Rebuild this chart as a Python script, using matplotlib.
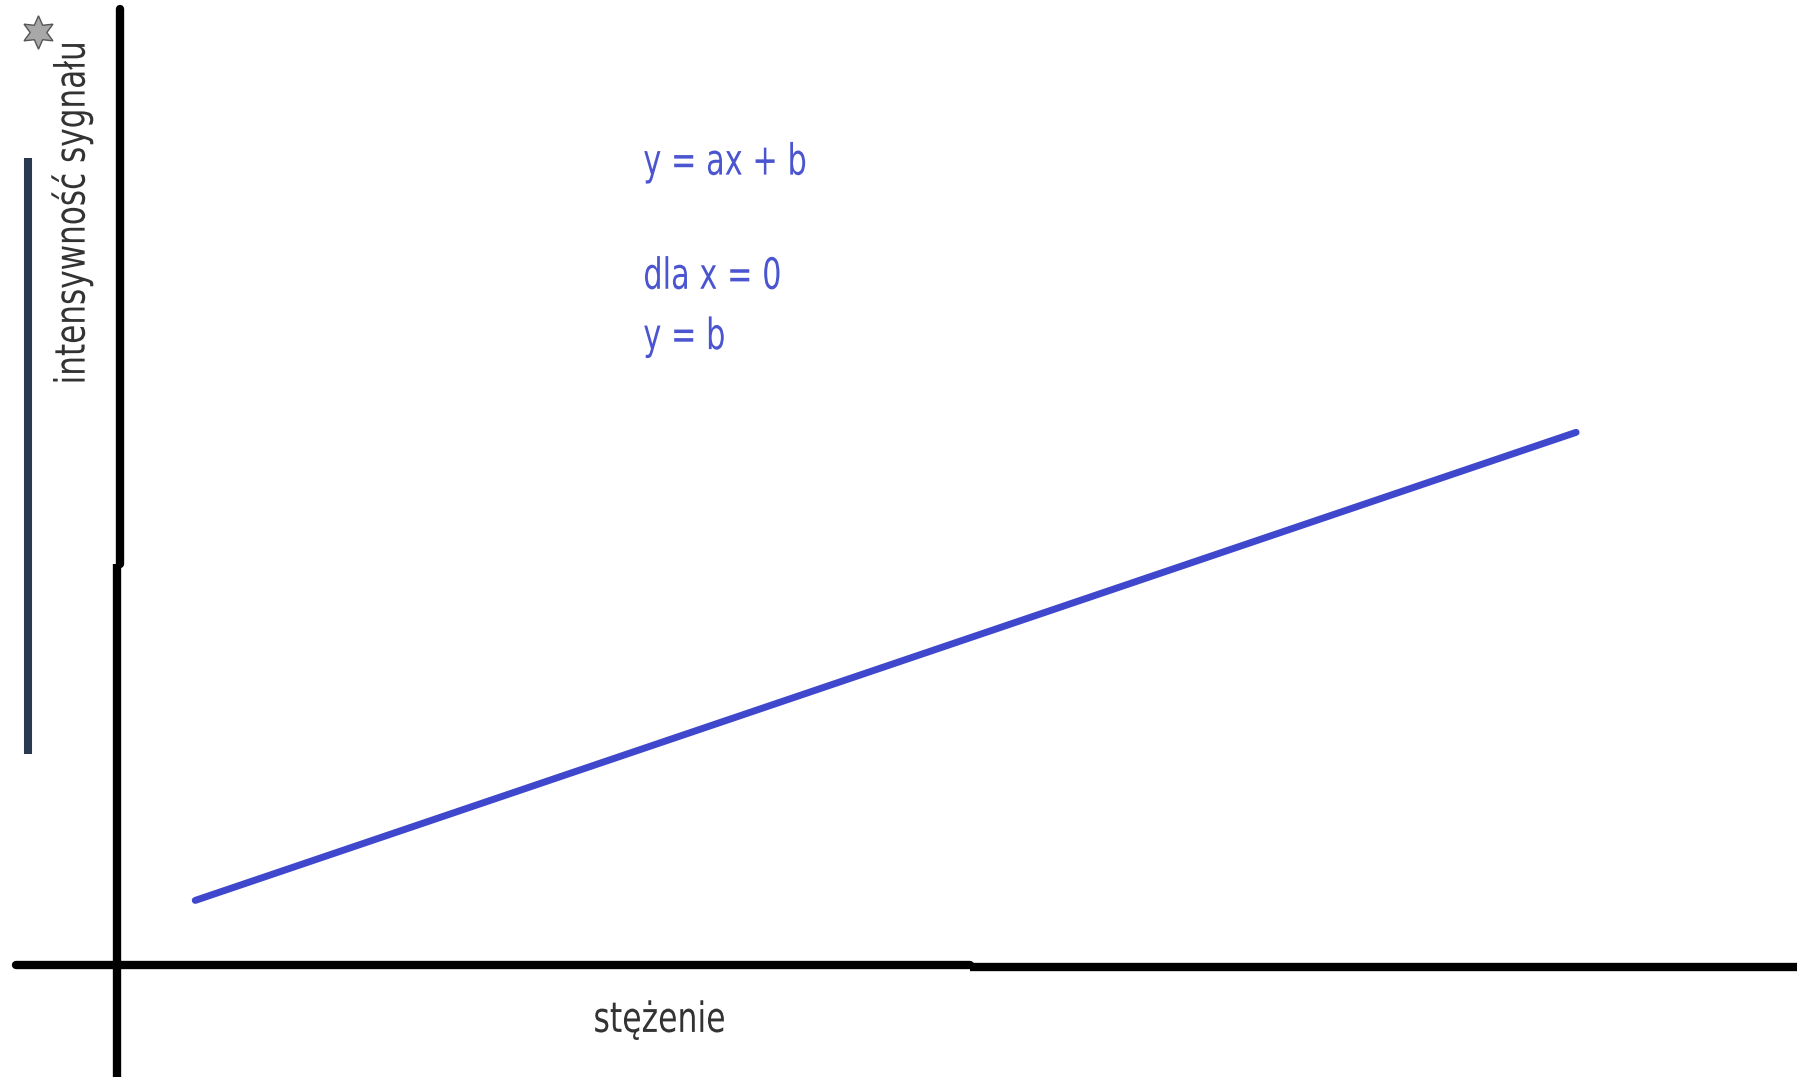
import matplotlib
matplotlib.use("Agg")
import matplotlib.pyplot as plt
from matplotlib import patheffects
from matplotlib.transforms import Affine2D

# dane: prosta kalibracyjna y = ax + b
stezenie = [0.53, 10.0]
sygnal = [0.45, 3.66]

opis_rownania = ["y = ax + b", "dla x = 0", "y = b"]
etykieta_x = "stężenie"
etykieta_y = "intensywność sygnału"

font = dict(family="DejaVu Sans", fontstretch="condensed")
niebieski = "#3f48cc"
tekst_niebieski = "#4a55cf"


# zwęża tekst w poziomie (wąska czcionka jak na oryginale)
class Zwezenie(patheffects.AbstractPathEffect):
    def __init__(self, sx, od_lewej=False):
        super().__init__()
        self.sx = sx
        self.od_lewej = od_lewej

    def draw_path(self, renderer, gc, tpath, affine, rgbFace=None):
        ext = tpath.get_extents()
        cx = 0 if self.od_lewej else (ext.x0 + ext.x1) / 2
        t = Affine2D().translate(-cx, 0).scale(self.sx, 1).translate(cx, 0)
        renderer.draw_path(gc, tpath, t + affine, rgbFace)


fig = plt.figure(figsize=(17.97, 10.77), dpi=100)
ax = fig.add_axes([0, 0, 1, 1])
ax.set_xlim(-0.809, 11.515)
ax.set_ylim(-0.761, 6.625)
ax.axis("off")

# osie narysowane "odręcznie" z dwóch kawałków
ax.axvline(0.014, ymin=0.476, ymax=0.992, color="black", lw=6, solid_capstyle="round")
ax.axvline(-0.007, ymin=0.0, ymax=0.476, color="black", lw=6, solid_capstyle="butt")
ax.axhline(0.007, xmin=0.009, xmax=0.540, color="black", lw=6, solid_capstyle="round")
ax.axhline(-0.007, xmin=0.540, xmax=1.0, color="black", lw=6, solid_capstyle="butt")

# pasek z boku
ax.axvline(-0.62, ymin=0.300, ymax=0.853, color="#29394f", lw=5.8, solid_capstyle="butt")

# prosta
ax.plot(stezenie, sygnal, color=niebieski, lw=5, solid_capstyle="round")

# gwiazdka w rogu
ax.plot([0.021], [0.970], marker=(6, 1, 0), ms=24, mfc="#a8a8a8", mec="#555555",
        mew=1, transform=ax.transAxes, clip_on=False)

for tekst, y in zip(opis_rownania, [0.849, 0.743, 0.687]):
    ax.text(0.358, y, tekst, transform=ax.transAxes, fontsize=31,
            color=tekst_niebieski, va="center", ha="left",
            path_effects=[Zwezenie(0.785, od_lewej=True)], **font)

ax.text(0.367, 0.053, etykieta_x, transform=ax.transAxes, fontsize=30,
        color="#333333", va="center", ha="center",
        path_effects=[Zwezenie(0.84)], **font)
ax.text(0.040, 0.802, etykieta_y, transform=ax.transAxes, fontsize=30,
        color="#333333", va="center", ha="center", rotation=90,
        path_effects=[Zwezenie(0.83)], **font)

fig.savefig("out.png", dpi=100)
